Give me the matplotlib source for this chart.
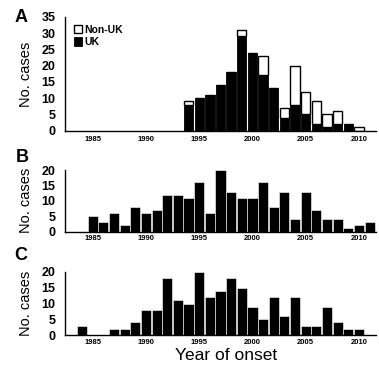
import matplotlib.pyplot as plt
import numpy as np

plt.rcParams['font.family'] = ['Liberation Sans', 'DejaVu Sans']

# panel A: UK vs non-UK cases by year of onset
years_a = np.arange(1994, 2011)
uk_a = [8, 10, 11, 14, 18, 29, 24, 17, 13, 4, 8, 5, 2, 1, 2, 2, 0]
non_uk_a = [1, 0, 0, 0, 0, 2, 0, 6, 0, 3, 12, 7, 7, 4, 4, 0, 1]

# panel B
years_b = np.arange(1985, 2012)
cases_b = [5, 3, 6, 2, 8, 6, 7, 12, 12, 11, 16, 6, 20, 13, 11, 11, 16, 8, 13, 4,
           13, 7, 4, 4, 1, 2, 3]

# panel C
years_c = np.arange(1984, 2012)
cases_c = [3, 0, 0, 2, 2, 4, 8, 8, 18, 11, 10, 20, 12, 14, 18, 15, 9, 5, 12, 6,
           12, 3, 3, 9, 4, 2, 2, 0]

xticks = [1985, 1990, 1995, 2000, 2005, 2010]

fig = plt.figure(figsize=(3.79, 3.69), dpi=100)
W, H = 379, 369


def make_axes(top, bottom):
    return fig.add_axes([65 / W, 1 - bottom / H, 311 / W, (bottom - top) / H])


def style(ax, ymax, xpad):
    ax.set_xlim(1982.4, 2011.6)
    ax.set_ylim(0, ymax)
    ax.set_yticks(np.arange(0, ymax + 1, 5))
    ax.set_xticks(xticks)
    ax.tick_params(axis='y', length=0, pad=7, labelsize=9)
    ax.tick_params(axis='x', length=0, pad=xpad, labelsize=5.5)
    for lab in ax.get_yticklabels() + ax.get_xticklabels():
        lab.set_fontweight('bold')
    for s in ['top', 'right']:
        ax.spines[s].set_visible(False)
    for s in ['left', 'bottom']:
        ax.spines[s].set_linewidth(1.0)


axA = make_axes(17, 130.5)
axA.bar(years_a, uk_a, width=0.88, color='black', edgecolor='black', linewidth=0.6, label='UK')
axA.bar(years_a, non_uk_a, bottom=uk_a, width=0.88, color='white', edgecolor='black',
        linewidth=1.0, label='Non-UK')
style(axA, 35, 4.0)
h, l = axA.get_legend_handles_labels()
axA.legend(h[::-1], l[::-1], loc='upper left', bbox_to_anchor=(0.015, 0.97), frameon=False,
           prop={'size': 7.5, 'weight': 'bold'}, handlelength=0.8, handleheight=0.9,
           handletextpad=0.2, labelspacing=0.25, borderaxespad=0)

axB = make_axes(170, 231.5)
axB.bar(years_b, cases_b, width=0.95, color='black', edgecolor='white', linewidth=0.4)
style(axB, 20, 2.7)

axC = make_axes(272, 335)
axC.bar(years_c, cases_c, width=0.95, color='black', edgecolor='white', linewidth=0.4)
style(axC, 20, 3.0)

for y_mid in [74, 200.75, 303.5]:
    fig.text(26 / W, 1 - y_mid / H, 'No. cases', rotation=90, ha='center', va='center',
             fontsize=10.5)

for letter, x, y in [('A', 21, 18), ('B', 22, 157), ('C', 21, 256)]:
    fig.text(x / W, 1 - y / H, letter, ha='center', va='center', fontsize=13,
             fontweight='bold')

fig.text(226 / W, 1 - 356 / H, 'Year of onset', ha='center', va='center', fontsize=12.5)

fig.savefig('out.png', dpi=100)
